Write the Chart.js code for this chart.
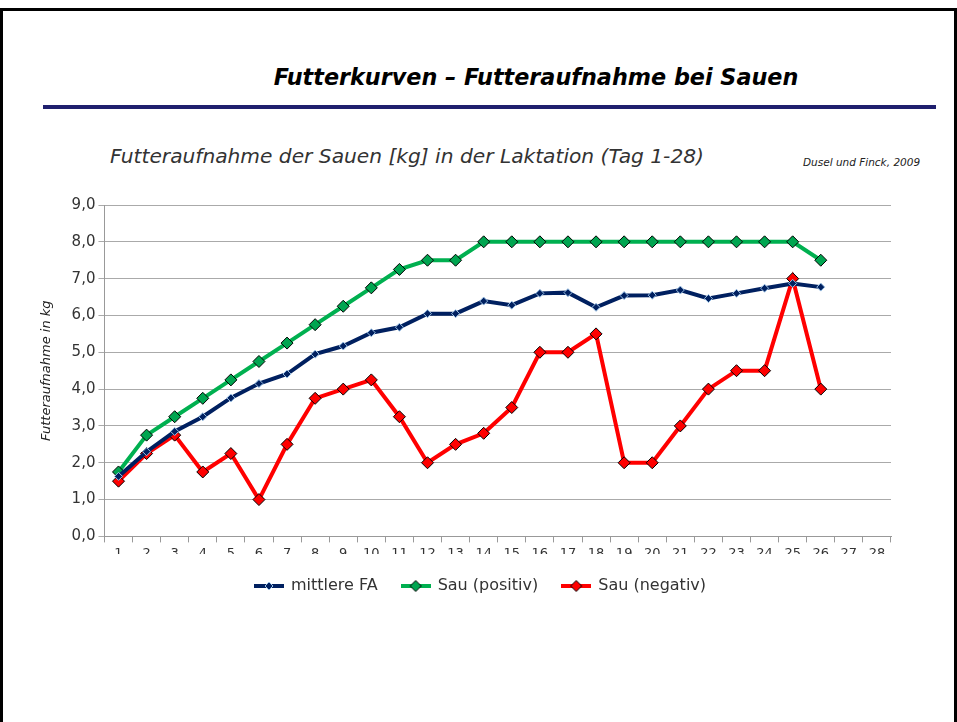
<!DOCTYPE html>
<html>
<head>
<meta charset="utf-8">
<script src="https://cdn.jsdelivr.net/npm/chart.js@4.4.1/dist/chart.umd.min.js"></script>
<style>
  body { margin: 0; background: #fff; }
  #slide { position: relative; width: 951px; height: 712px; margin-top: 8px; border: 3px solid #000; border-bottom: none; }
  #title { position: absolute; left: 0; width: 1066px; top: 53px; text-align: center; font: italic bold 22.3px "DejaVu Sans", sans-serif; color: #000; }
  #rule { position: absolute; left: 40px; top: 94px; width: 893px; height: 4px; background: #1f1f6e; }
  #sub { position: absolute; left: 107px; top: 133px; font: italic 20.2px "DejaVu Sans", sans-serif; color: #333; }
  #src { position: absolute; left: 800px; top: 145px; font: italic 10.5px "DejaVu Sans", sans-serif; color: #222; }
  #wrap { position: absolute; left: 27px; top: 182px; width: 896px; height: 430px; }
</style>
</head>
<body>
<div id="slide">
  <div id="title">Futterkurven – Futteraufnahme bei Sauen</div>
  <div id="rule"></div>
  <div id="sub">Futteraufnahme der Sauen [kg] in der Laktation (Tag 1-28)</div>
  <div id="src">Dusel und Finck, 2009</div>
  <div id="wrap"><canvas id="c"></canvas></div>
</div>
<script>
// Tage 1-28
const tage = ['1','2','3','4','5','6','7','8','9','10','11','12','13','14','15','16','17','18','19','20','21','22','23','24','25','26','27','28'];
const mittlereFA = [1.63, 2.3, 2.85, 3.25, 3.76, 4.15, 4.41, 4.95, 5.17, 5.53, 5.68, 6.05, 6.05, 6.39, 6.28, 6.6, 6.62, 6.22, 6.54, 6.55, 6.69, 6.46, 6.6, 6.74, 6.87, 6.77];
const sauPositiv = [1.75, 2.75, 3.25, 3.75, 4.25, 4.75, 5.25, 5.75, 6.25, 6.75, 7.25, 7.5, 7.5, 8, 8, 8, 8, 8, 8, 8, 8, 8, 8, 8, 8, 7.5];
const sauNegativ = [1.5, 2.25, 2.75, 1.75, 2.25, 1.0, 2.5, 3.75, 4.0, 4.25, 3.25, 2.0, 2.5, 2.8, 3.5, 5.0, 5.0, 5.5, 2.0, 2.0, 3.0, 4.0, 4.5, 4.5, 7.0, 4.0];
const yTicks = [0, 1, 2, 3, 4, 5, 6, 7, 8, 9];

// kleine Legenden-Symbole: Linie mit Raute
function legendIcon(line, fill, border, r) {
  const cv = document.createElement('canvas');
  cv.width = 30; cv.height = 14;
  const g = cv.getContext('2d');
  g.strokeStyle = line; g.lineWidth = 4;
  g.beginPath(); g.moveTo(0, 7); g.lineTo(30, 7); g.stroke();
  g.fillStyle = fill; g.strokeStyle = border; g.lineWidth = 1;
  g.beginPath(); g.moveTo(15, 7 - r); g.lineTo(15 + r, 7); g.lineTo(15, 7 + r); g.lineTo(15 - r, 7); g.closePath();
  g.fill(); g.stroke();
  return cv;
}
const icons = [
  legendIcon('#002060', '#002060', '#9dc3e6', 4),
  legendIcon('#00b050', '#00a550', '#000', 5.5),
  legendIcon('#ff0000', '#ff0000', '#000', 5.5)
];

new Chart(document.getElementById('c'), {
  type: 'line',
  data: {
    labels: tage,
    datasets: [
      { label: 'mittlere FA', data: mittlereFA, borderColor: '#002060', backgroundColor: '#002060',
        pointStyle: 'rectRot', pointRadius: 4, pointBorderColor: '#9dc3e6', pointBorderWidth: 1, borderWidth: 4 },
      { label: 'Sau (positiv)', data: sauPositiv, borderColor: '#00b050', backgroundColor: '#00a550',
        pointStyle: 'rectRot', pointRadius: 6, pointBorderColor: '#000', pointBorderWidth: 1, borderWidth: 4 },
      { label: 'Sau (negativ)', data: sauNegativ, borderColor: '#ff0000', backgroundColor: '#ff0000',
        pointStyle: 'rectRot', pointRadius: 6, pointBorderColor: '#000', pointBorderWidth: 1, borderWidth: 4 }
    ]
  },
  options: {
    responsive: true,
    maintainAspectRatio: false,
    animation: false,
    layout: { padding: { top: 10, left: 9, right: 4, bottom: 19 } },
    plugins: {
      tooltip: { enabled: false },
      legend: {
        position: 'bottom',
        labels: {
          usePointStyle: true,
          pointStyleWidth: 28,
          color: '#333',
          font: { family: 'DejaVu Sans', size: 16 },
          padding: 24,
          generateLabels: (chart) => chart.data.datasets.map((ds, i) => ({
            text: ds.label, pointStyle: icons[i], datasetIndex: i,
            fontColor: '#333', lineWidth: 0, strokeStyle: 'transparent', fillStyle: 'transparent'
          }))
        }
      }
    },
    scales: {
      x: {
        offset: true,
        grid: { drawOnChartArea: false, color: '#999', tickLength: 6, offset: true },
        border: { color: '#999' },
        ticks: { color: '#333', font: { family: 'DejaVu Sans', size: 13 }, maxRotation: 0, autoSkip: false },
        afterFit: (s) => { s.height = s.height - 10; }
      },
      y: {
        min: 0, max: 9,
        afterBuildTicks: (axis) => { axis.ticks = yTicks.map(v => ({ value: v })); },
        grid: { color: '#aaa', tickLength: 6 },
        border: { color: '#999' },
        title: { display: true, text: 'Futteraufnahme in kg', color: '#222', padding: { top: 0, bottom: 14 },
                 font: { family: 'DejaVu Sans', size: 13, style: 'italic' } },
        ticks: { color: '#333', font: { family: 'DejaVu Sans', size: 15 },
                 callback: (v) => v.toFixed(1).replace('.', ',') }
      },
      // leere rechte Achse, nur als Platzhalter damit die Legende mittig sitzt
      yRechts: {
        position: 'right', min: 0, max: 9,
        grid: { display: false }, border: { display: false }, ticks: { display: false },
        afterFit: (s) => { s.width = 31; }
      }
    }
  }
});
</script>
</body>
</html>
